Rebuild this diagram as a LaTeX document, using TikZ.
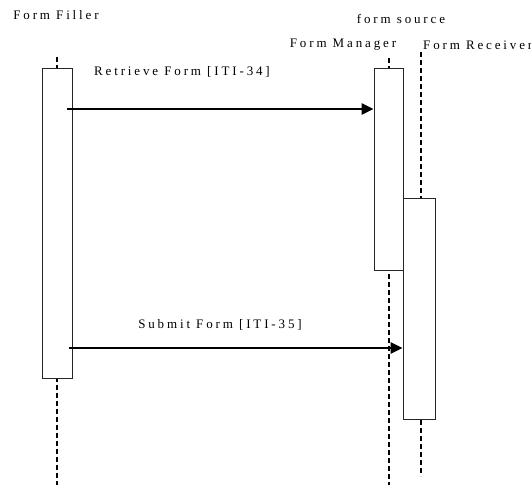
\documentclass[tikz,border=0pt]{standalone}
\usepackage{fontspec}
\setmainfont{Liberation Serif}[LetterSpace=22]
\usetikzlibrary{arrows.meta}
\begin{document}
\begin{tikzpicture}[x=1pt,y=-1pt,
	every node/.style={font=\fontsize{13}{15}\selectfont,inner sep=0},
	actbox/.style={draw=black!85,line width=0.8pt,fill=white,minimum width=30pt},
	lifeline/.style={line width=1.8pt,dash pattern=on 5pt off 3pt},
	msg/.style={-{Triangle[length=12pt,width=11pt]},line width=2.4pt}]
	\useasboundingbox (0,0) rectangle (531,485);
	% heads
	\node (filler) at (56,15) {Form Filler};
	\node (source) at (401,19) {form source};
	\node (manager) at (343,45) {Form Manager};
	\node[anchor=west] (receiver) at (423,45) {Form Receiver};
	% lifelines
	\draw[lifeline] (57,57) -- (57,485);
	\draw[lifeline] (389,58) -- (389,485);
	\draw[lifeline] (421,52) -- (421,476);
	% activations
	\node[actbox,minimum height=310pt] (fillbox) at (57,223) {};
	\node[actbox,minimum width=29pt,minimum height=202pt] (mgrbox) at (388.5,169) {};
	\node[actbox,minimum width=32pt,minimum height=221pt] (rcvbox) at (419,308.5) {};
	% messages
	\coordinate (m1) at (67,109);
	\coordinate (m2) at (69,348);
	\draw[msg] (m1) -- (mgrbox.west |- m1);
	\draw[msg] (m2) -- (rcvbox.west |- m2);
	\node (retrieve) at (182,72) {Retrieve Form [ITI-34]};
	\node (submit) at (220,325) {Submit Form [ITI-35]};
\end{tikzpicture}
\end{document}
